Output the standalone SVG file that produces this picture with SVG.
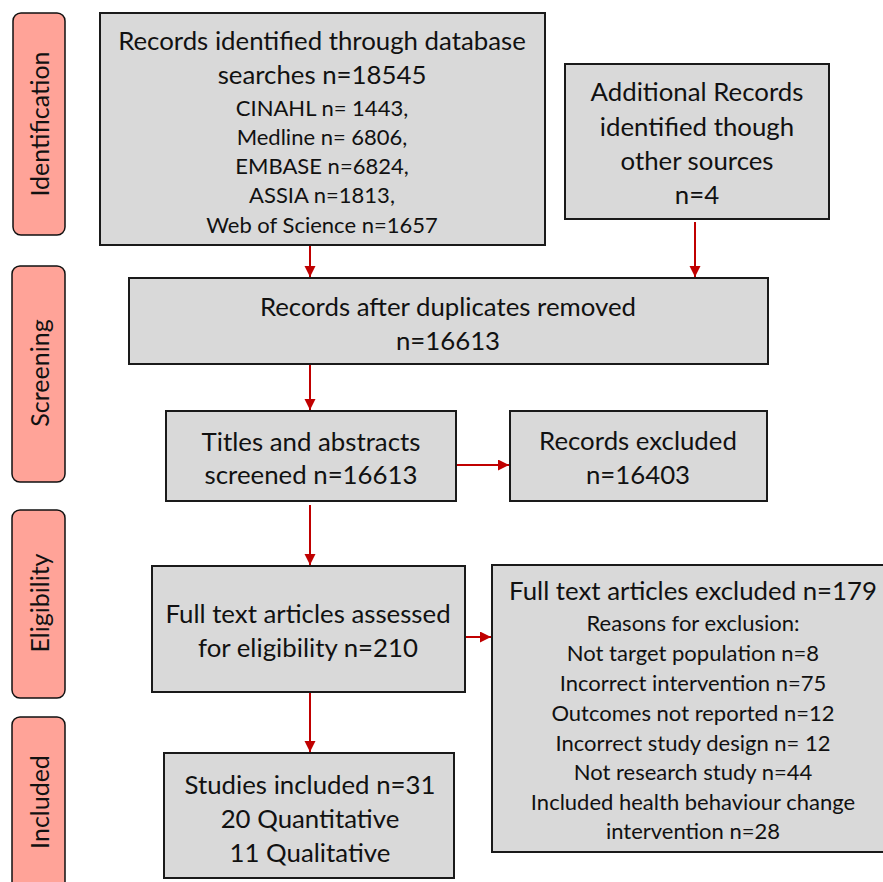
<svg xmlns="http://www.w3.org/2000/svg" width="883" height="882" viewBox="0 0 883 882">
<style>
.box{fill:#D9D9D9;stroke:#1a1a1a;stroke-width:2}
.pill{fill:#FFA398;stroke:#111;stroke-width:1.5}
text{font-family:Lato,"Liberation Sans",sans-serif;fill:#111;text-anchor:middle;dominant-baseline:central}
.t{font-size:25.8px}
.s{font-size:22px}
.p{font-size:25px}
.c{fill:none;stroke:#C00000;stroke-width:2}
</style>
<defs>
<marker id="ah" markerUnits="userSpaceOnUse" markerWidth="12" markerHeight="12" refX="11" refY="5.5" orient="auto">
<path d="M0,0 L11,5.5 L0,11 Z" fill="#C00000"/>
</marker>
</defs>
<rect width="883" height="882" fill="#fff"/>
<g id="stage-identification"><rect class="pill" x="13" y="13" width="52" height="222" rx="8"/><text class="p" transform="translate(39,124) rotate(-90)">Identification</text></g>
<g id="stage-screening"><rect class="pill" x="12" y="266" width="53" height="216" rx="8"/><text class="p" transform="translate(39,373) rotate(-90)">Screening</text></g>
<g id="stage-eligibility"><rect class="pill" x="12" y="510" width="53" height="188" rx="8"/><text class="p" transform="translate(39,603) rotate(-90)">Eligibility</text></g>
<g id="stage-included"><rect class="pill" x="12" y="717" width="53" height="180" rx="8"/><text class="p" transform="translate(39,802) rotate(-90)">Included</text></g>
<g id="db-records"><rect class="box" x="100" y="13" width="445" height="232"/>
<text class="t" x="322" y="40">Records identified through database</text>
<text class="t" x="322" y="74">searches n=18545</text>
<text class="s" x="322" y="107">CINAHL n= 1443,</text>
<text class="s" x="322" y="136">Medline n= 6806,</text>
<text class="s" x="322" y="165">EMBASE n=6824,</text>
<text class="s" x="322" y="194">ASSIA n=1813,</text>
<text class="s" x="322" y="224">Web of Science n=1657</text></g>
<g id="other-records"><rect class="box" x="565" y="64" width="264" height="155"/>
<text class="t" x="697" y="91">Additional Records</text>
<text class="t" x="697" y="126">identified though</text>
<text class="t" x="697" y="160">other sources</text>
<text class="t" x="697" y="194">n=4</text></g>
<g id="dedup"><rect class="box" x="129" y="278" width="639" height="86"/>
<text class="t" x="448" y="306">Records after duplicates removed</text>
<text class="t" x="448" y="340">n=16613</text></g>
<g id="screened"><rect class="box" x="166" y="411" width="290" height="90"/>
<text class="t" x="311" y="441">Titles and abstracts</text>
<text class="t" x="311" y="474">screened n=16613</text></g>
<g id="excluded"><rect class="box" x="510" y="411" width="257" height="90"/>
<text class="t" x="638" y="440">Records excluded</text>
<text class="t" x="638" y="474">n=16403</text></g>
<g id="fulltext"><rect class="box" x="152" y="566" width="313" height="126"/>
<text class="t" x="308" y="613">Full text articles assessed</text>
<text class="t" x="308" y="647">for eligibility n=210</text></g>
<g id="fulltext-excluded"><rect class="box" x="492" y="565" width="400" height="287"/>
<text class="t" x="693" y="590">Full text articles excluded n=179</text>
<text class="s" x="693" y="622">Reasons for exclusion:</text>
<text class="s" x="693" y="652">Not target population n=8</text>
<text class="s" x="693" y="682">Incorrect intervention n=75</text>
<text class="s" x="693" y="712">Outcomes not reported n=12</text>
<text class="s" x="693" y="742">Incorrect study design n= 12</text>
<text class="s" x="693" y="771">Not research study n=44</text>
<text class="s" x="693" y="801">Included health behaviour change</text>
<text class="s" x="693" y="830">intervention n=28</text></g>
<g id="included"><rect class="box" x="164" y="753" width="290" height="125"/>
<text class="t" x="310" y="784">Studies included n=31</text>
<text class="t" x="310" y="818">20 Quantitative</text>
<text class="t" x="310" y="852">11 Qualitative</text></g>
<g id="connectors">
<line class="c" x1="310" y1="246" x2="310" y2="277" marker-end="url(#ah)"/>
<line class="c" x1="695" y1="222" x2="695" y2="277" marker-end="url(#ah)"/>
<line class="c" x1="310" y1="365" x2="310" y2="410" marker-end="url(#ah)"/>
<line class="c" x1="457" y1="465" x2="509" y2="465" marker-end="url(#ah)"/>
<line class="c" x1="310" y1="505" x2="310" y2="565" marker-end="url(#ah)"/>
<line class="c" x1="466" y1="637" x2="491" y2="637" marker-end="url(#ah)"/>
<line class="c" x1="310" y1="693" x2="310" y2="752" marker-end="url(#ah)"/>
</g>
</svg>
